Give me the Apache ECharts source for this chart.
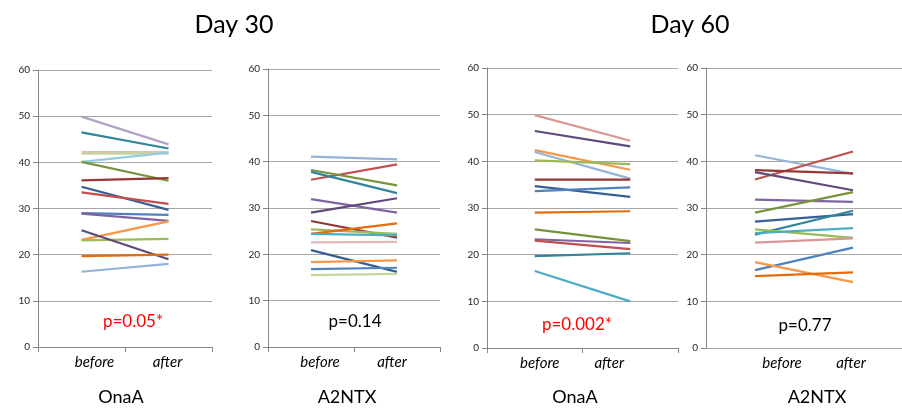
<!DOCTYPE html>
<html>
<head>
<meta charset="utf-8">
<script src="https://cdn.jsdelivr.net/npm/echarts@6/dist/echarts.min.js"></script>
<style>
html,body{margin:0;padding:0;background:#fff;}
#chart{width:902px;height:409px;}
</style>
</head>
<body>
<div id="chart"></div>
<script>
// ---- data ----
const categories = ['before', 'after'];
const yTicks = [0, 10, 20, 30, 40, 50, 60];

// Day 30 - OnaA
const d30OnaBefore = [49.9, 46.5, 42.2, 41.9, 40.1, 40.1, 36.1, 34.7, 33.5, 29.0, 28.9, 23.2, 23.1, 25.3, 19.7, 16.3];
const d30OnaAfter  = [43.9, 43.0, 42.2, 41.9, 42.1, 36.0, 36.6, 29.7, 31.0, 28.6, 27.3, 27.2, 23.4, 19.0, 20.0, 18.0];
// Day 30 - A2NTX
const d30A2Before = [41.1, 36.1, 38.2, 37.8, 31.9, 29.0, 27.2, 25.4, 24.4, 24.4, 22.6, 20.9, 18.3, 16.8, 15.5];
const d30A2After  = [40.5, 39.4, 34.9, 33.2, 29.0, 32.1, 23.6, 24.4, 26.7, 24.1, 22.7, 16.2, 18.7, 17.1, 15.8];
// Day 60 - OnaA
const d60OnaBefore = [49.9, 46.5, 42.4, 42.0, 40.2, 36.1, 34.7, 33.6, 29.0, 25.4, 23.3, 23.0, 19.7, 16.5];
const d60OnaAfter  = [44.4, 43.2, 38.2, 36.3, 39.4, 36.1, 32.4, 34.4, 29.3, 22.9, 22.5, 21.2, 20.3, 10.0];
// Day 60 - A2NTX
const d60A2Before = [41.3, 36.1, 38.1, 37.7, 31.8, 29.0, 27.1, 24.3, 25.4, 24.6, 22.6, 16.7, 18.4, 15.4];
const d60A2After  = [37.3, 42.1, 37.4, 33.8, 31.3, 33.4, 28.7, 29.4, 23.6, 25.7, 23.5, 21.5, 14.1, 16.2];

const panelTitles = ['Day 30', 'Day 60'];
const groupNames = ['OnaA', 'A2NTX', 'OnaA', 'A2NTX'];
const pValues = ['p=0.05*', 'p=0.14', 'p=0.002*', 'p=0.77'];

// ---- styles ----
const colors1 = ['#b3a2c7','#31859c','#e6b9b8','#c3d69b','#93cddd','#77933c','#953735','#376092','#c0504d','#4f81bd','#8064a2','#f79646','#9bbb59','#604a7b','#e46c0a','#95b3d7'];
const colors2 = ['#95b3d7','#c0504d','#77933c','#31859c','#8064a2','#604a7b','#953735','#9bbb59','#e46c0a','#4bacc6','#e6b9b8','#376092','#f79646','#4f81bd','#c3d69b'];
const colors3 = ['#d99694','#604a7b','#f79646','#95b3d7','#9bbb59','#953735','#376092','#4f81bd','#e46c0a','#77933c','#8064a2','#c0504d','#31859c','#4bacc6'];
const colors4 = ['#95b3d7','#c0504d','#953735','#604a7b','#8064a2','#77933c','#376092','#31859c','#9bbb59','#4bacc6','#d99694','#4f81bd','#f79646','#e46c0a'];

const FONT = 'Lato, "Liberation Sans", sans-serif';

const grids = [
  {left: 38,  top: 70, width: 174, height: 277},
  {left: 268, top: 69, width: 172, height: 278},
  {left: 487, top: 68, width: 191, height: 280},
  {left: 706, top: 68, width: 206, height: 280}
];
// label shifts (padding) for before / after labels per panel
const labelPads = [
  [[0,0,0,26],[0,2,0,0]],
  [[0,0,0,18],[0,10,0,0]],
  [[0,0,0,10],[0,42,0,0]],
  [[0,0,0,54],[0,4,0,0]]
];

const panels = [
  {before: d30OnaBefore, after: d30OnaAfter, colors: colors1},
  {before: d30A2Before,  after: d30A2After,  colors: colors2},
  {before: d60OnaBefore, after: d60OnaAfter, colors: colors3},
  {before: d60A2Before,  after: d60A2After,  colors: colors4}
];

const xAxes = [], yAxes = [], series = [];
panels.forEach((p, i) => {
  xAxes.push({
    type: 'category', gridIndex: i, boundaryGap: true,
    data: categories.map((c, k) => ({value: c, textStyle: {padding: labelPads[i][k]}})),
    axisLine: {show: i !== 3, lineStyle: {color: '#868686', width: 1}},
    axisTick: {show: i !== 3, length: 5, lineStyle: {color: '#868686'}},
    axisLabel: {fontFamily: FONT, fontStyle: 'italic', fontSize: 15, color: '#000', margin: 8}
  });
  yAxes.push({
    type: 'value', gridIndex: i, min: 0, max: 60, interval: 10,
    axisLine: {show: true, lineStyle: {color: '#868686', width: 1}},
    axisTick: {show: true, length: 5, lineStyle: {color: '#868686'}},
    splitLine: {show: true, lineStyle: {color: '#a6a6a6', width: 1}},
    axisLabel: {fontFamily: FONT, fontSize: 10, color: '#262626', margin: 8,
      formatter: v => yTicks.indexOf(v) >= 0 ? String(v) : ''}
  });
  p.before.forEach((b, j) => {
    series.push({
      type: 'line', xAxisIndex: i, yAxisIndex: i,
      data: [b, p.after[j]],
      symbol: 'none', silent: true,
      lineStyle: {color: p.colors[j], width: 2.2},
      itemStyle: {color: p.colors[j]}
    });
  });
});

const textCenters = {
  titles: [[234, 25], [690, 25]],
  groups: [[121, 397], [347, 397], [575, 397], [817, 397]],
  pvals: [[133, 322], [355, 322], [577, 325], [805, 326]]
};
const pColors = ['#ff0000', '#000', '#ff0000', '#000'];

const graphic = [];
panelTitles.forEach((t, i) => graphic.push({type: 'text', x: textCenters.titles[i][0], y: textCenters.titles[i][1],
  style: {text: t, font: '25px ' + FONT, fill: '#000', textAlign: 'center', textVerticalAlign: 'middle'}}));
groupNames.forEach((t, i) => graphic.push({type: 'text', x: textCenters.groups[i][0], y: textCenters.groups[i][1],
  style: {text: t, font: '18px ' + FONT, fill: '#000', textAlign: 'center', textVerticalAlign: 'middle'}}));
pValues.forEach((t, i) => graphic.push({type: 'text', x: textCenters.pvals[i][0], y: textCenters.pvals[i][1],
  style: {text: t, font: '17px ' + FONT, fill: pColors[i], textAlign: 'center', textVerticalAlign: 'middle'}}));
// short axis stub on the last panel
graphic.push({type: 'line', shape: {x1: 706, y1: 348.5, x2: 718, y2: 348.5}, style: {stroke: '#868686', lineWidth: 1}});

const chart = echarts.init(document.getElementById('chart'), null, {renderer: 'canvas'});
chart.setOption({
  animation: false,
  backgroundColor: '#fff',
  grid: grids,
  xAxis: xAxes,
  yAxis: yAxes,
  series: series,
  graphic: graphic
});
</script>
</body>
</html>
